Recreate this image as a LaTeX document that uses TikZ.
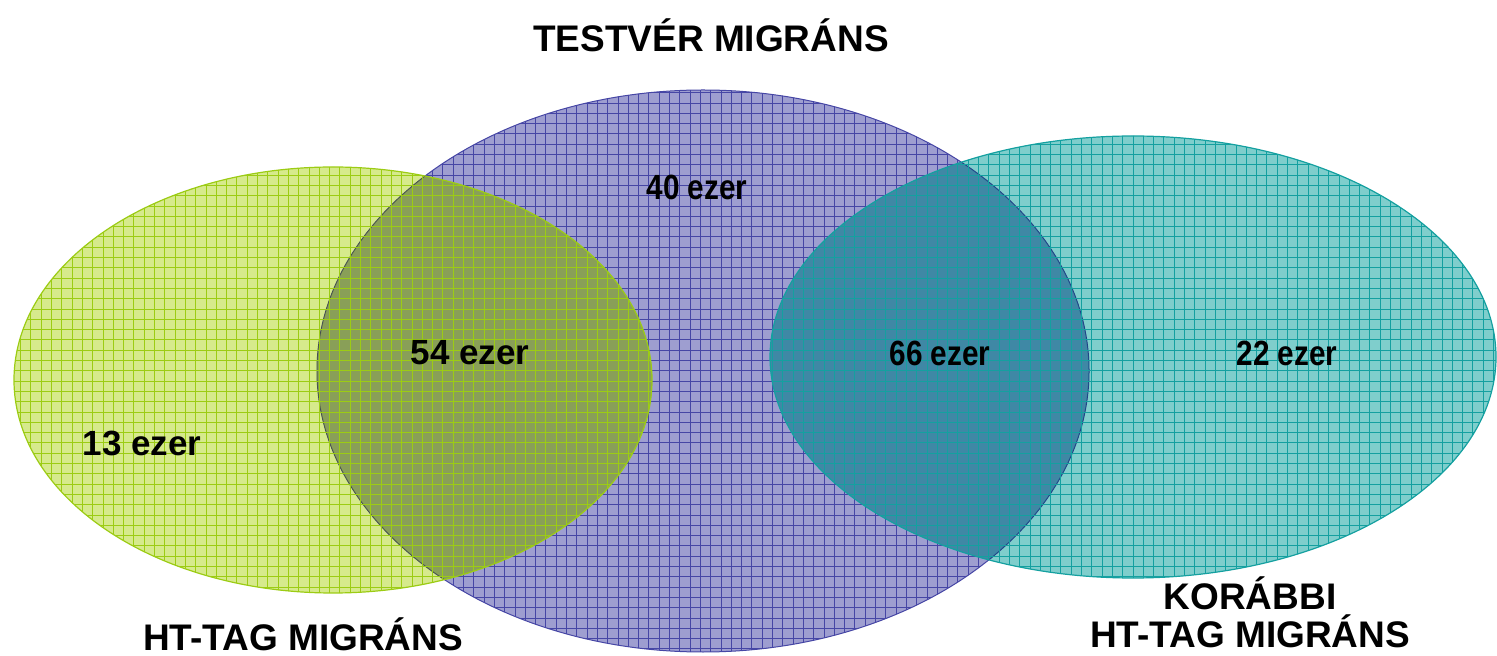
\documentclass[tikz,border=0pt]{standalone}
\usepackage{fontspec}
\setmainfont{Liberation Sans}
\definecolor{pfill}{RGB}{158,158,208}
\definecolor{pgrid}{RGB}{70,70,165}
\definecolor{gfill}{RGB}{214,234,140}
\definecolor{ggrid}{RGB}{156,204,20}
\definecolor{tfill}{RGB}{127,206,204}
\definecolor{tgrid}{RGB}{20,160,160}
\definecolor{gtint}{RGB}{150,195,30}
\definecolor{ttint}{RGB}{20,165,165}
\tikzset{
  title/.style={font=\fontsize{18.5}{22}\selectfont\bfseries, align=center, text=black, inner sep=0pt},
  num/.style={font=\fontsize{17.5}{20}\selectfont\bfseries, text=black, inner sep=0pt},
  narrow/.style={num, xscale=0.85},
  gridline/.style={line width=0.45pt, step=5.15pt},
}
\begin{document}
\begin{tikzpicture}[x=0.5pt, y=-0.5pt]
\useasboundingbox (0,0) rectangle (1497,656);
% centers
\coordinate (cp) at (703,371);
\coordinate (cg) at (333,380);
\coordinate (ct) at (1133,357);
% purple ellipse
\fill[pfill] (cp) ellipse [x radius=386, y radius=281];
\begin{scope}
  \clip (cp) ellipse [x radius=386, y radius=281];
  \draw[pgrid, gridline] (0,0) grid (1497,656);
\end{scope}
\draw[pgrid, line width=0.5pt] (cp) ellipse [x radius=386, y radius=281];
% green ellipse
\begin{scope}[blend mode=multiply]
  \fill[gfill] (cg) ellipse [x radius=319, y radius=213];
\end{scope}
\begin{scope}
  \clip (cg) ellipse [x radius=319, y radius=213];
  \fill[gtint, opacity=0.3] (cp) ellipse [x radius=386, y radius=281];
  \draw[ggrid, gridline] (0,0) grid (1497,656);
\end{scope}
\draw[ggrid, line width=0.6pt] (cg) ellipse [x radius=319, y radius=213];
% teal ellipse
\begin{scope}[blend mode=multiply]
  \fill[tfill] (ct) ellipse [x radius=363, y radius=221];
\end{scope}
\begin{scope}
  \clip (ct) ellipse [x radius=363, y radius=221];
  \fill[ttint, opacity=0.25] (cp) ellipse [x radius=386, y radius=281];
  \draw[tgrid, gridline] (0,0) grid (1497,656);
\end{scope}
\draw[tgrid, line width=0.6pt] (ct) ellipse [x radius=363, y radius=221];
% labels
\node[title] (tTest) at (711,35) {TESTVÉR MIGRÁNS};
\node[title] (tHt) at (303,634) {HT-TAG MIGRÁNS};
\node[title] (tKor) at (1250,612) {KORÁBBI\\[-3pt]HT-TAG MIGRÁNS};
\node[num] (n13) at (142,443) {13 ezer};
\node[num] (n54) at (470,353) {54 ezer};
\node[narrow] (n40) at (697,187) {40 ezer};
\node[narrow] (n66) at (940,353) {66 ezer};
\node[narrow] (n22) at (1287,353) {22 ezer};
\end{tikzpicture}
\end{document}
